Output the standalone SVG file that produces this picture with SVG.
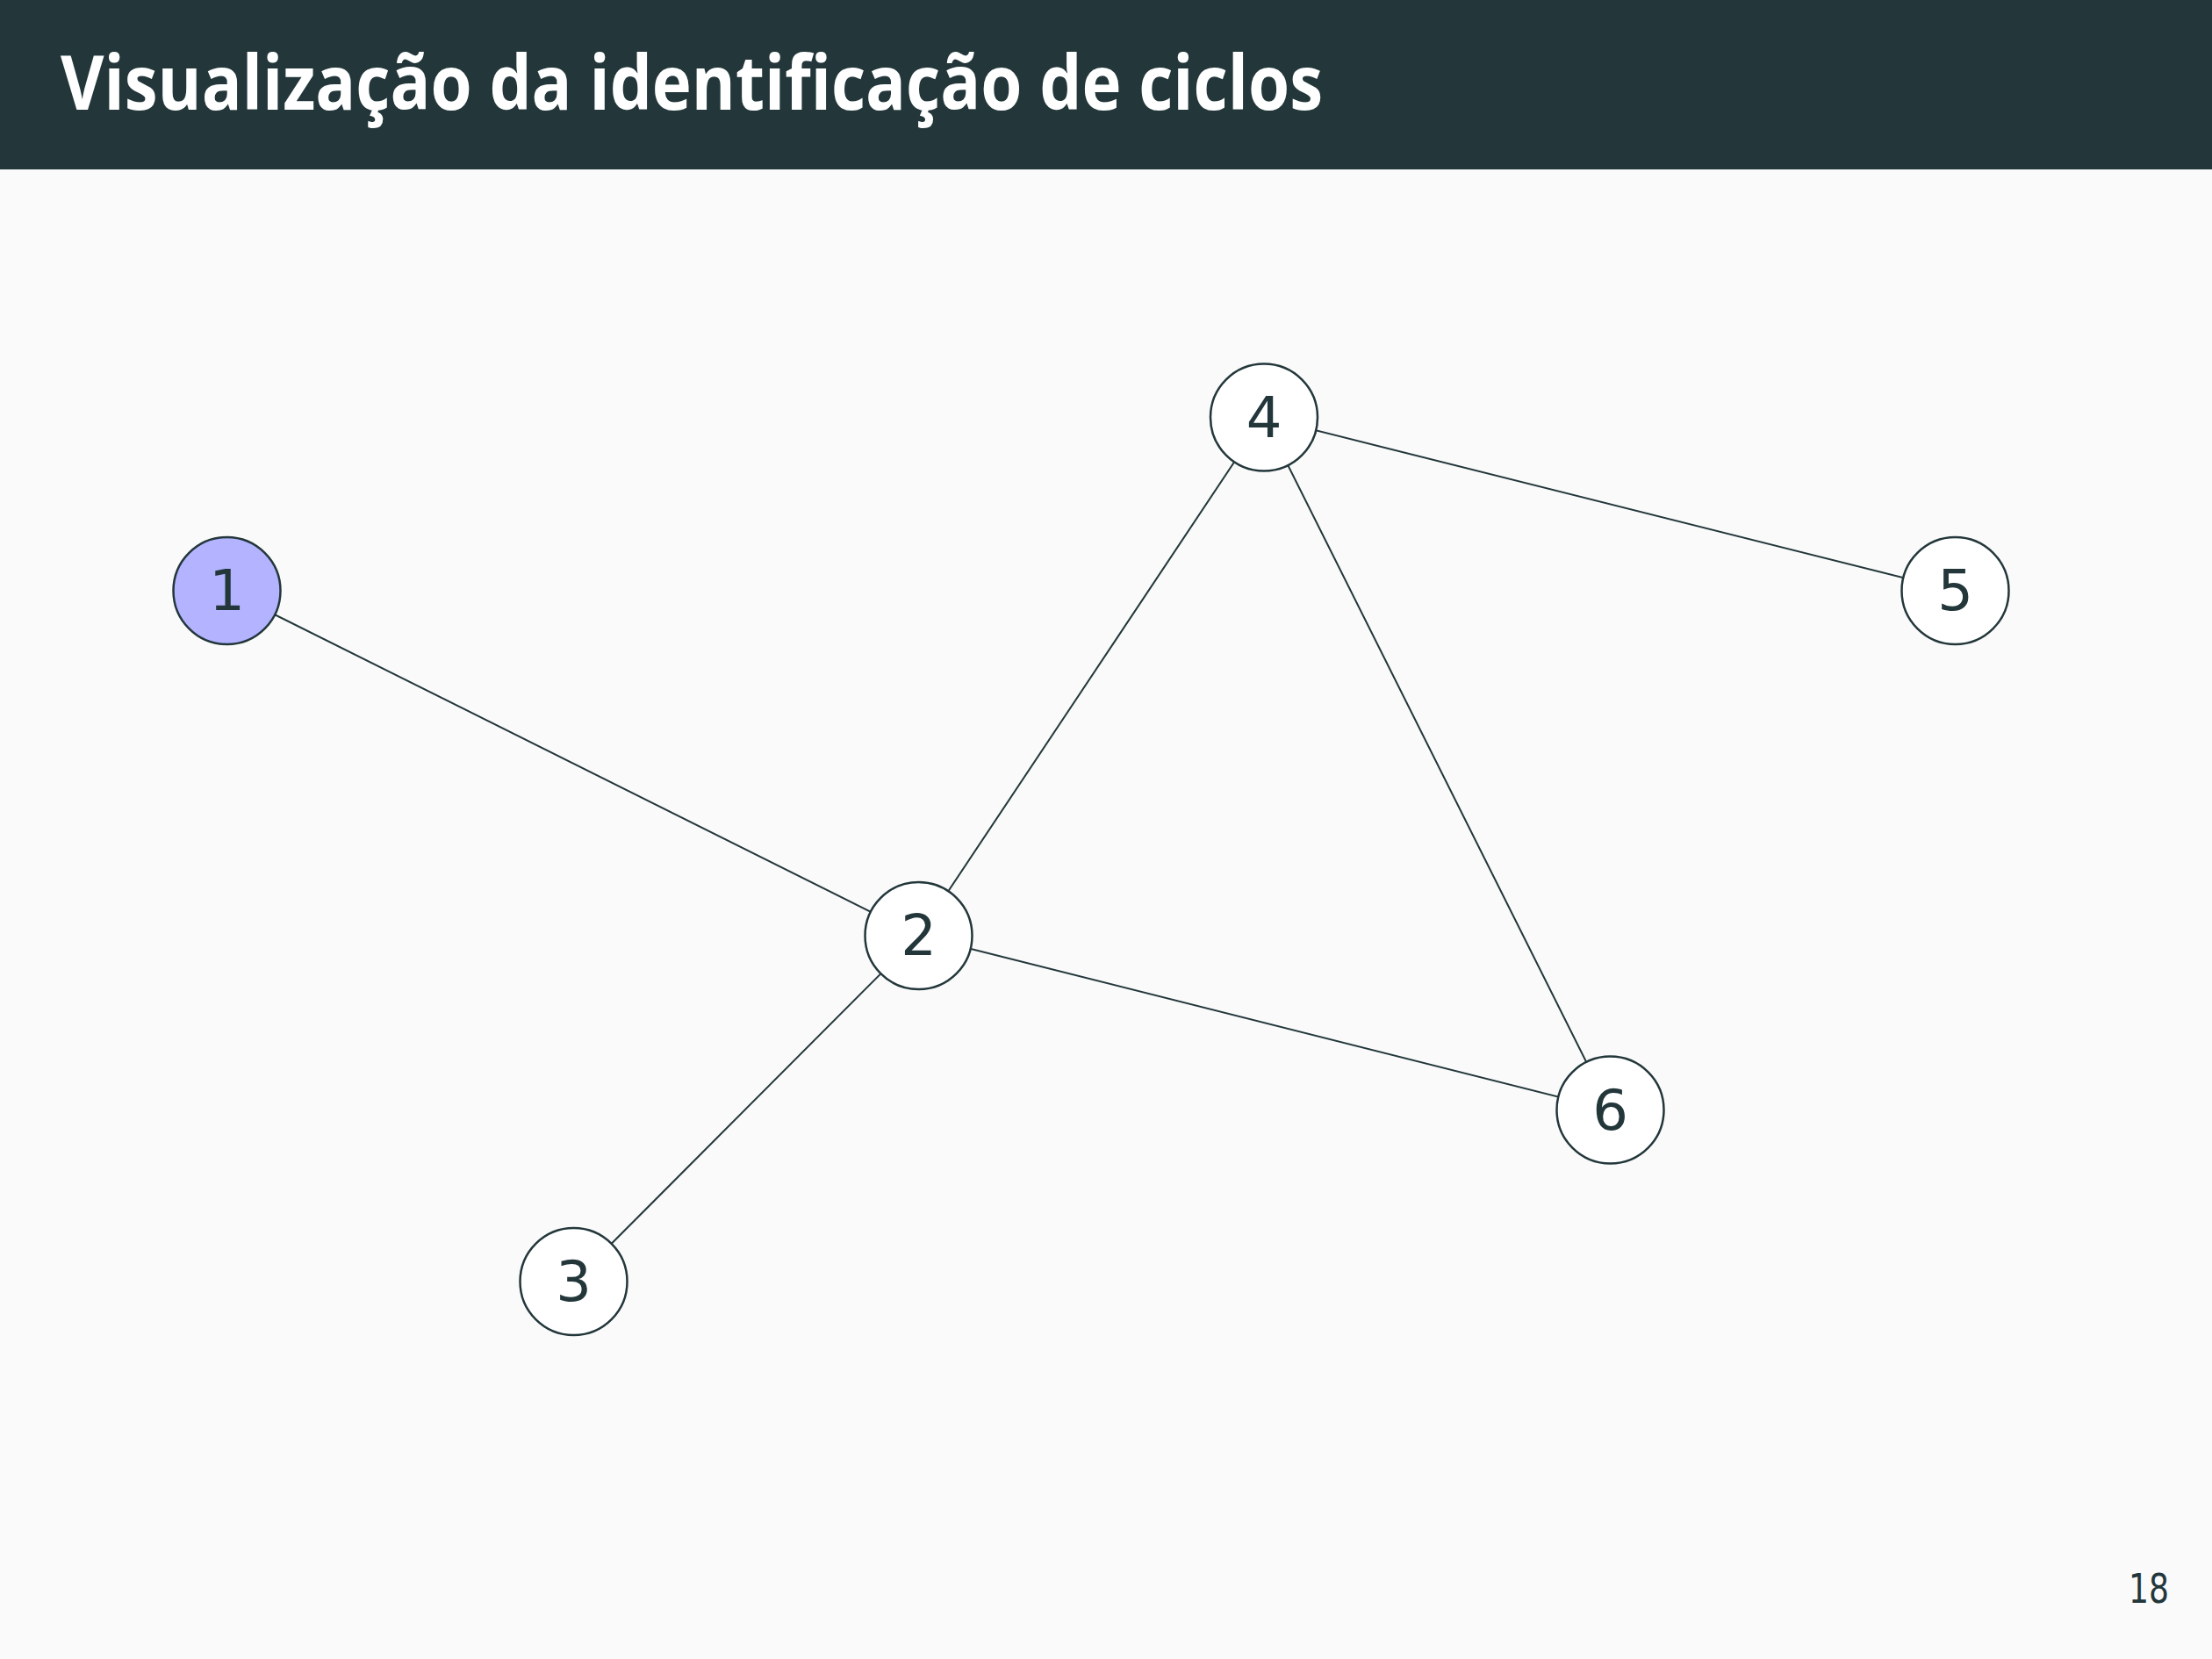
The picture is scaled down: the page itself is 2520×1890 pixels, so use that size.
<svg xmlns="http://www.w3.org/2000/svg" width="2520" height="1890" viewBox="0 0 2520 1890">
<style>
.node circle{fill:#ffffff;stroke:#23373b;stroke-width:2.5}
.node text{font-family:"DejaVu Sans",sans-serif;font-size:64px;fill:#23373b;text-anchor:middle}
#edges line{stroke:#23373b;stroke-width:2}
</style>
<rect x="0" y="0" width="2520" height="1890" fill="#fafafa"/>
<rect x="0" y="0" width="2520" height="193" fill="#23373b"/>
<text x="69" y="125" font-family="Open Sans, sans-serif" font-weight="bold" font-size="86" fill="#ffffff" textLength="1438" lengthAdjust="spacingAndGlyphs">Visualização da identificação de ciclos</text>
<g id="edges">
<line x1="258.5" y1="673" x2="1046.5" y2="1066"/>
<line x1="1046.5" y1="1066" x2="653.5" y2="1460"/>
<line x1="1046.5" y1="1066" x2="1440" y2="475.5"/>
<line x1="1046.5" y1="1066" x2="1834.5" y2="1264.5"/>
<line x1="1440" y1="475.5" x2="2227.5" y2="673"/>
<line x1="1440" y1="475.5" x2="1834.5" y2="1264.5"/>
</g>
<g id="node1" class="node"><circle cx="258.5" cy="673" r="61" style="fill:#b3b3ff"/><text x="258.5" y="695">1</text></g>
<g id="node2" class="node"><circle cx="1046.5" cy="1066" r="61"/><text x="1046.5" y="1088">2</text></g>
<g id="node3" class="node"><circle cx="653.5" cy="1460" r="61"/><text x="653.5" y="1482">3</text></g>
<g id="node4" class="node"><circle cx="1440" cy="475.5" r="61"/><text x="1440" y="497.5">4</text></g>
<g id="node5" class="node"><circle cx="2227.5" cy="673" r="61"/><text x="2227.5" y="695">5</text></g>
<g id="node6" class="node"><circle cx="1834.5" cy="1264.5" r="61"/><text x="1834.5" y="1286.5">6</text></g>
<text x="2471" y="1826" font-family="DejaVu Sans, sans-serif" font-size="46" fill="#23373b" text-anchor="end" textLength="46" lengthAdjust="spacingAndGlyphs">18</text>
</svg>
